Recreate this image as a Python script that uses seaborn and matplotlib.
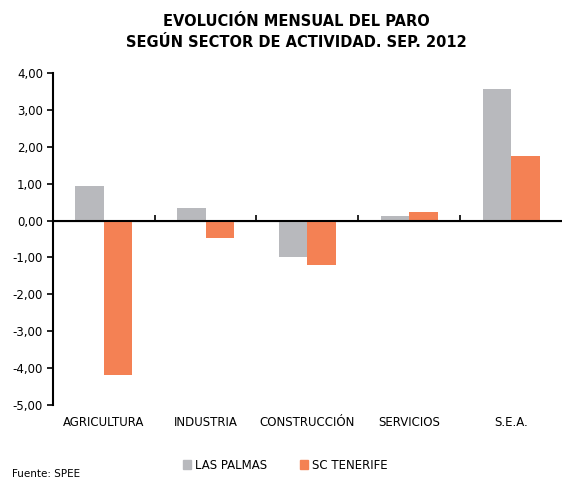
import pandas as pd
import matplotlib.pyplot as plt
import seaborn as sns

sectores = ['AGRICULTURA', 'INDUSTRIA', 'CONSTRUCCIÓN', 'SERVICIOS', 'S.E.A.']
las_palmas = [0.95, 0.33, -1.00, 0.12, 3.57]
sc_tenerife = [-4.18, -0.47, -1.21, 0.22, 1.76]
yticks = [4, 3, 2, 1, 0, -1, -2, -3, -4, -5]

df = pd.DataFrame({
    'sector': sectores * 2,
    'valor': las_palmas + sc_tenerife,
    'prov': ['LAS PALMAS'] * 5 + ['SC TENERIFE'] * 5,
})

sns.set_style('white')
plt.rcParams['font.family'] = ['DejaVu Sans']
plt.rcParams['text.color'] = 'black'
plt.rcParams['xtick.color'] = 'black'
plt.rcParams['ytick.color'] = 'black'
plt.rcParams['xtick.labelcolor'] = 'black'
plt.rcParams['ytick.labelcolor'] = 'black'

fig = plt.figure(figsize=(5.62, 4.8), dpi=100)
ax = fig.add_axes([0.094, 0.156, 0.906, 0.692])

sns.barplot(data=df, x='sector', y='valor', hue='prov',
            palette=['#B8B9BD', '#F48154'], width=0.56, gap=0,
            saturation=1, linewidth=0, ax=ax, legend=False)

ax.set_xlim(-0.5, 4.5)
ax.set_ylim(-5, 4)
ax.set_yticks(yticks)
ax.set_yticklabels([f'{v:.2f}'.replace('.', ',') for v in yticks], fontsize=8.5)
ax.tick_params(axis='y', direction='out', length=4, width=1.2, color='black', pad=3, left=True)
ax.tick_params(axis='x', length=0, labelsize=8.5, pad=8)
ax.set_xlabel('')
ax.set_ylabel('')
for s in ['top', 'right', 'bottom']:
    ax.spines[s].set_visible(False)
ax.spines['left'].set_color('black')
ax.spines['left'].set_linewidth(1.5)
ax.axhline(0, color='black', lw=1.5, zorder=5)

# marcas de separación sobre la línea del cero
sec = ax.secondary_xaxis(5 / 9)
sec.set_xticks([0.5, 1.5, 2.5, 3.5])
sec.set_xticklabels([])
sec.tick_params(direction='out', length=4, width=1.2, color='black')
sec.spines['bottom'].set_visible(False)

fig.text(0.527, 0.955, 'EVOLUCIÓN MENSUAL DEL PARO', ha='center', va='center',
         fontsize=10.5, fontweight='bold')
fig.text(0.527, 0.912, 'SEGÚN SECTOR DE ACTIVIDAD. SEP. 2012', ha='center', va='center',
         fontsize=10.5, fontweight='bold')

handles = [plt.Rectangle((0, 0), 1, 1, color=c) for c in ['#B8B9BD', '#F48154']]
fig.legend(handles, ['LAS PALMAS', 'SC TENERIFE'], loc='center', bbox_to_anchor=(0.507, 0.031),
           ncol=2, frameon=False, fontsize=8.5, handlelength=0.7, handleheight=0.7,
           handletextpad=0.3, columnspacing=2.8)
fig.text(0.022, 0.003, 'Fuente: SPEE', fontsize=7.5, va='bottom')

plt.savefig('out.png', dpi=100)
